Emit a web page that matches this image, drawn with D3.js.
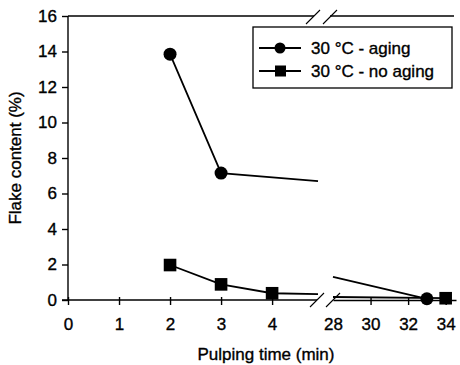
<!DOCTYPE html>
<html><head><meta charset="utf-8">
<script src="https://cdn.jsdelivr.net/npm/d3@7"></script>
<style>body{margin:0;background:#fff}svg{display:block}text{font-family:"Liberation Sans",Arial,sans-serif;fill:#000;stroke:#000;stroke-width:0.35px}</style>
</head><body><svg id="c" width="460" height="365"></svg>
<script>
// data
const yTicks = [0, 2, 4, 6, 8, 10, 12, 14, 16];
const xTicksLeft = [0, 1, 2, 3, 4];
const xTicksRight = [28, 30, 32, 34];
const seriesNames = ["30 °C - aging", "30 °C - no aging"];
const agingTimes = [2, 3, 4.9, 28, 33];
const agingValues = [13.85, 7.15, 6.7, 1.3, 0.07];
const agingMarked = [true, true, false, false, true];
const noAgingTimes = [2, 3, 4, 4.9, 28, 34];
const noAgingValues = [1.97, 0.88, 0.38, 0.33, 0.17, 0.1];
const noAgingMarked = [true, true, true, false, false, true];

const svg = d3.select("#c");
const y = d3.scaleLinear().domain([0, 16]).range([300, 16]);
const xL = d3.scaleLinear().domain([0, 4.88]).range([68, 317]);
const xR = d3.scaleLinear().domain([28, 34.55]).range([333, 456]);
const xs = t => t < 10 ? xL(t) : xR(t);
const fmt = d3.format("d");

// axes
const gy = svg.append("g").attr("transform", "translate(68,0)")
  .call(d3.axisLeft(y).tickValues(yTicks).tickFormat(fmt).tickSize(6).tickPadding(5));
const gxl = svg.append("g").attr("transform", "translate(0,300)")
  .call(d3.axisBottom(xL).tickValues(xTicksLeft).tickFormat(fmt).tickSize(5).tickPadding(13).tickSizeOuter(0));
const gxr = svg.append("g").attr("transform", "translate(0,300)")
  .call(d3.axisBottom(xR).tickValues(xTicksRight).tickFormat(fmt).tickSize(5).tickPadding(13).tickSizeOuter(0));
[gy, gxl, gxr].forEach(g => {
  g.selectAll("path,line").attr("stroke", "#000").attr("stroke-width", 1.4);
  g.selectAll("text").attr("font-size", 17).attr("font-family", '"Liberation Sans",Arial,sans-serif').attr("fill", "#000");
});
gy.select(".domain").attr("d", "M0,300V16");
gxl.select(".domain").attr("d", "M62,0H317");
gxl.selectAll(".tick line").attr("y1", -3);
gxr.selectAll(".tick line").attr("y1", -3);
gxr.selectAll(".tick").filter(d => d === 28).select("line").remove();

// top border
svg.append("line").attr("x1", 68).attr("x2", 314).attr("y1", 16).attr("y2", 16).attr("stroke", "#000").attr("stroke-width", 1.4);
svg.append("line").attr("x1", 330).attr("x2", 454).attr("y1", 16).attr("y2", 16).attr("stroke", "#000").attr("stroke-width", 1.4);
// break marks
[[317, 300], [333, 300], [313, 17], [330, 17]].forEach(([cx, cy]) => {
  svg.append("line").attr("x1", cx - 7).attr("y1", cy + 7).attr("x2", cx + 7).attr("y2", cy - 7)
    .attr("stroke", "#000").attr("stroke-width", 1.1);
});

// series
function drawSeries(times, vals, marked, shape) {
  const pts = times.map((t, i) => ({ t, v: vals[i], m: marked[i] }));
  const left = pts.filter(p => p.t < 10), right = pts.filter(p => p.t >= 10);
  const line = d3.line().x(p => xs(p.t)).y(p => y(p.v));
  [left, right].forEach(seg => svg.append("path").attr("d", line(seg)).attr("fill", "none")
    .attr("stroke", "#000").attr("stroke-width", 1.8));
  pts.filter(p => p.m).forEach(p => {
    if (shape === "circle") svg.append("circle").attr("cx", xs(p.t)).attr("cy", y(p.v)).attr("r", 6.5).attr("fill", "#000");
    else svg.append("rect").attr("x", xs(p.t) - 6.3).attr("y", y(p.v) - 6.3).attr("width", 12.6).attr("height", 12.6).attr("fill", "#000");
  });
}
drawSeries(agingTimes, agingValues, agingMarked, "circle");
drawSeries(noAgingTimes, noAgingValues, noAgingMarked, "square");

// legend
const lg = svg.append("g");
lg.append("rect").attr("x", 253).attr("y", 27).attr("width", 199).attr("height", 61)
  .attr("fill", "#fff").attr("stroke", "#000").attr("stroke-width", 1.3);
seriesNames.forEach((name, i) => {
  const cy = 48 + i * 23;
  lg.append("line").attr("x1", 259).attr("x2", 301).attr("y1", cy).attr("y2", cy).attr("stroke", "#000").attr("stroke-width", 1.8);
  if (i === 0) lg.append("circle").attr("cx", 280).attr("cy", cy).attr("r", 5.5).attr("fill", "#000");
  else lg.append("rect").attr("x", 275).attr("y", cy - 5.5).attr("width", 11).attr("height", 11).attr("fill", "#000");
  lg.append("text").attr("x", 311).attr("y", cy + 6).attr("font-size", 17).text(name);
});

// axis titles
svg.append("text").attr("x", 266).attr("y", 360).attr("text-anchor", "middle").attr("font-size", 17).text("Pulping time (min)");
svg.append("text").attr("transform", "translate(21,158) rotate(-90)").attr("text-anchor", "middle").attr("font-size", 17).text("Flake content (%)");
</script></body></html>
